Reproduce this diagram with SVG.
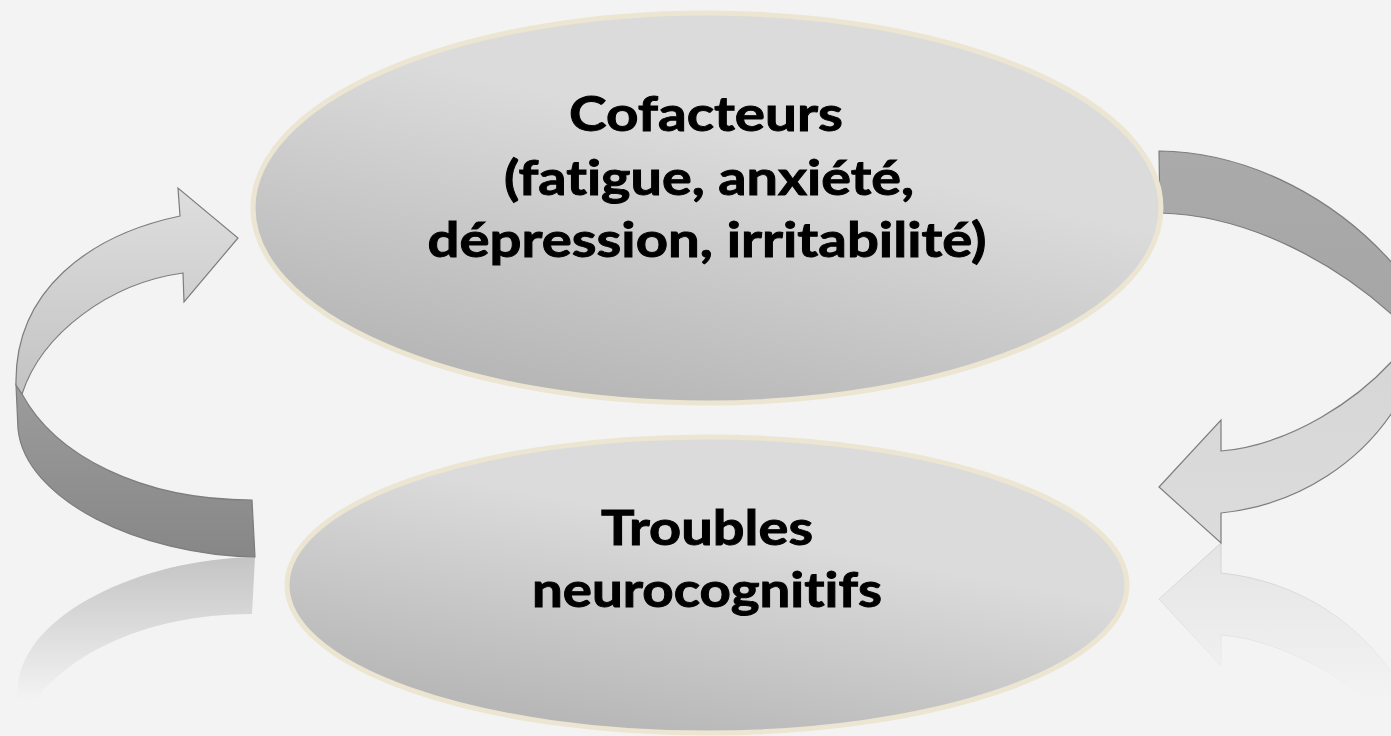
<svg xmlns="http://www.w3.org/2000/svg" width="1391" height="736" viewBox="0 0 1391 736">
<defs>
<style>
.ell{stroke:#ebe5d2;stroke-width:5}
.lbl{font-family:Lato,"Open Sans","Liberation Sans",sans-serif;font-weight:bold;font-size:47px;fill:#000;stroke:#000;stroke-width:0.9;text-anchor:middle;font-variant-ligatures:none;font-feature-settings:"liga" 0}
.arr{stroke:#7d7d7d;stroke-width:1.2;stroke-linejoin:miter}
</style>
<linearGradient id="gEll" x1="0.25" y1="1" x2="0.6" y2="0.35">
<stop offset="0" stop-color="#b3b3b3"/>
<stop offset="1" stop-color="#dbdbdb"/>
</linearGradient>
<linearGradient id="gLightL" x1="0" y1="0" x2="0" y2="1">
<stop offset="0" stop-color="#dedede"/>
<stop offset="1" stop-color="#c3c3c3"/>
</linearGradient>
<linearGradient id="gDarkL" x1="0" y1="0" x2="0" y2="1">
<stop offset="0" stop-color="#9c9c9c"/>
<stop offset="1" stop-color="#878787"/>
</linearGradient>
<linearGradient id="gLightR" x1="0" y1="0" x2="0" y2="1">
<stop offset="0" stop-color="#d6d6d6"/>
<stop offset="1" stop-color="#dcdcdc"/>
</linearGradient>
<linearGradient id="gDarkR" x1="0" y1="0" x2="0" y2="1">
<stop offset="0" stop-color="#aaaaaa"/>
<stop offset="1" stop-color="#a6a6a6"/>
</linearGradient>
<linearGradient id="gReflL" gradientUnits="userSpaceOnUse" x1="0" y1="557" x2="0" y2="700">
<stop offset="0" stop-color="#c4c4c4"/>
<stop offset="1" stop-color="#f3f3f3"/>
</linearGradient>
<linearGradient id="gReflR" gradientUnits="userSpaceOnUse" x1="0" y1="543" x2="0" y2="700">
<stop offset="0" stop-color="#e4e4e4"/>
<stop offset="1" stop-color="#f3f3f3"/>
</linearGradient>
<linearGradient id="gReflRs" gradientUnits="userSpaceOnUse" x1="0" y1="543" x2="0" y2="700">
<stop offset="0" stop-color="#cfcfcf"/>
<stop offset="1" stop-color="#f3f3f3"/>
</linearGradient>
</defs>
<rect width="1391" height="736" fill="#f3f3f3"/>

<g id="connectors">
<g id="arrow-left">
<path fill="url(#gReflL)" d="M22,720 C55,659 140,614 252,614 L255,557 C140,559 25,614 18,685 L16,729 Z"/>
<path class="arr" fill="url(#gDarkL)" d="M22,394 C55,455 140,500 252,500 L255,557 C140,555 25,500 18,429 L16,385 Z"/>
<path class="arr" fill="url(#gLightL)" d="M180,216 L178,188 L238,238 L184,302 L183,273 C110,283 42,333 22,394 L16,385 C14,290 90,235 180,216 Z"/>
</g>
<g id="arrow-right">
<path fill="url(#gReflR)" stroke="url(#gReflRs)" stroke-width="1" d="M1400,734 C1360,686 1290,641 1221,635 L1221,666 L1159,599 L1221,543 L1221,573 C1300,581 1365,626 1400,686 Z"/>
<path class="arr" fill="url(#gDarkR)" d="M1159,151 C1250,152 1340,200 1400,272 L1400,322 C1340,265 1250,215 1160,213 Z"/>
<path class="arr" fill="url(#gLightR)" d="M1400,352 C1360,400 1290,445 1221,451 L1221,420 L1159,487 L1221,543 L1221,513 C1300,505 1365,460 1400,400 Z"/>
</g>
</g>

<g id="node-cofacteurs">
<ellipse class="ell" cx="707" cy="208" rx="454" ry="195" fill="url(#gEll)"/>
<text class="lbl" x="706" y="131" textLength="274" lengthAdjust="spacingAndGlyphs">Cofacteurs</text>
<text class="lbl" x="709" y="195" textLength="410" lengthAdjust="spacingAndGlyphs">(fatigue, anxiété,</text>
<text class="lbl" x="707" y="257" textLength="559" lengthAdjust="spacingAndGlyphs">dépression, irritabilité)</text>
</g>

<g id="node-troubles">
<ellipse class="ell" cx="707" cy="585" rx="420" ry="148" fill="url(#gEll)"/>
<text class="lbl" x="707" y="545" textLength="212" lengthAdjust="spacingAndGlyphs">Troubles</text>
<text class="lbl" x="707" y="607" textLength="350" lengthAdjust="spacingAndGlyphs">neurocognitifs</text>
</g>
</svg>
